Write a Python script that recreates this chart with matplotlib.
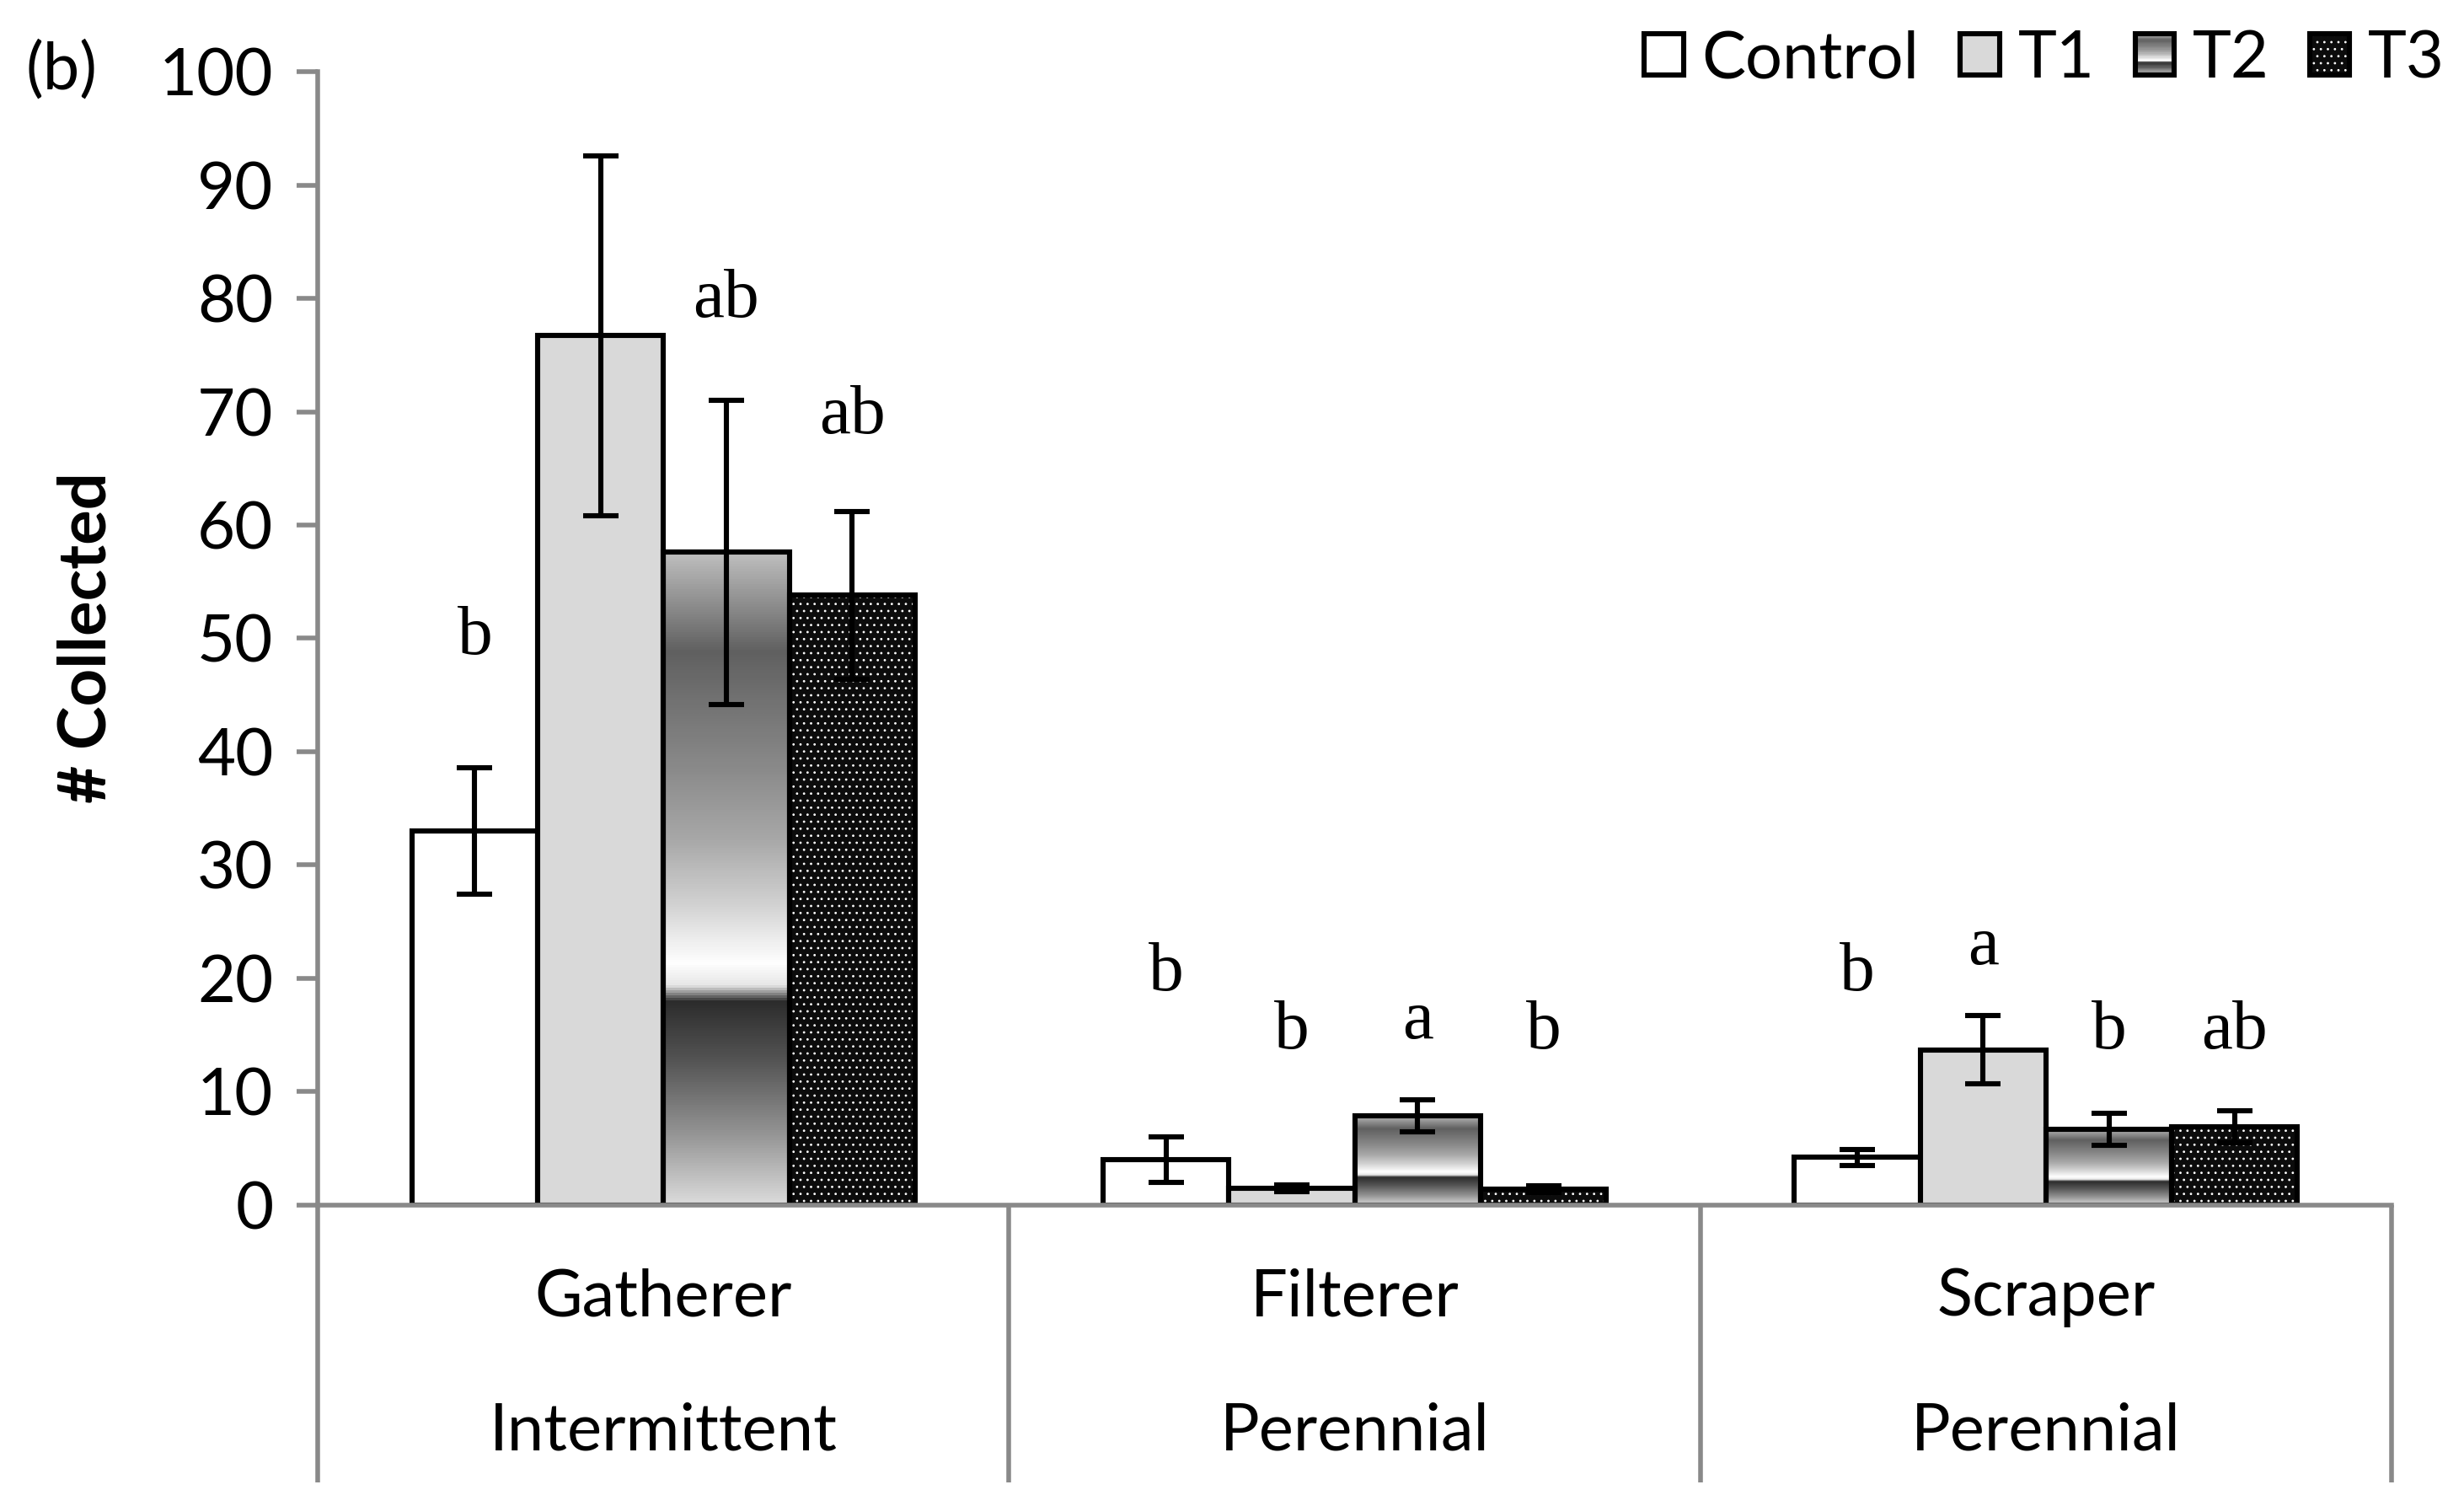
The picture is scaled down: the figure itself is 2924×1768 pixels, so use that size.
import numpy as np
import matplotlib
matplotlib.use("Agg")
import matplotlib.pyplot as plt
from matplotlib.patches import Rectangle, Patch
from matplotlib.legend_handler import HandlerBase
from matplotlib.colors import LinearSegmentedColormap
import matplotlib.transforms as mtransforms

# ---------------- data ----------------
groups = ["Gatherer", "Filterer", "Scraper"]
habitats = ["Intermittent", "Perennial", "Perennial"]
series = ["Control", "T1", "T2", "T3"]

control = [33.0, 4.0, 4.2]
t1 = [76.7, 1.5, 13.7]
t2 = [57.6, 7.9, 6.7]
t3 = [53.8, 1.4, 6.9]

control_err = [5.6, 2.0, 0.7]
t1_err = [15.9, 0.3, 3.0]
t2_err = [13.4, 1.4, 1.4]
t3_err = [7.4, 0.3, 1.4]

control_let = ["b", "b", "b"]
t1_let = ["", "b", "a"]
t2_let = ["ab", "a", "b"]
t3_let = ["ab", "b", "ab"]

# letter heights (data units, vertical centre)
control_let_y = [50.1, 20.4, 20.4]
t1_let_y = [0, 15.3, 22.7]
t2_let_y = [79.8, 16.2, 15.3]
t3_let_y = [69.6, 15.3, 15.3]

yticks = list(range(0, 101, 10))

# ---------------- style ----------------
plt.rcParams['font.family'] = ['Lato', 'DejaVu Sans']
plt.rcParams['hatch.linewidth'] = 0.4
FS = 28
GRAY = '#898989'

grad_cmap = LinearSegmentedColormap.from_list('chrome', [
    (0.00, '#dadada'),
    (0.11, '#929292'),
    (0.22, '#545454'),
    (0.31, '#2c2c2c'),
    (0.335, '#e6e6e6'),
    (0.37, '#ffffff'),
    (0.46, '#d2d2d2'),
    (0.56, '#a8a8a8'),
    (0.67, '#8a8a8a'),
    (0.85, '#606060'),
    (1.00, '#bdbdbd'),
])

fig = plt.figure(figsize=(14.62, 8.84), dpi=200)
ax = fig.add_axes([0.129, 0.1912, 0.8416, 0.7607])

x = np.arange(len(groups))
w = 0.182
offs = [-1.5 * w, -0.5 * w, 0.5 * w, 1.5 * w]
vals = [control, t1, t2, t3]
errs = [control_err, t1_err, t2_err, t3_err]
lets = [control_let, t1_let, t2_let, t3_let]
lety = [control_let_y, t1_let_y, t2_let_y, t3_let_y]
LW = 2.2
T3FACE = '#0c0c0c'

# Control
ax.bar(x + offs[0], control, w, facecolor='white', edgecolor='black', linewidth=LW, zorder=2)
# T1
ax.bar(x + offs[1], t1, w, facecolor='#d9d9d9', edgecolor='black', linewidth=LW, zorder=2)
# T2 gradient
b2 = ax.bar(x + offs[2], t2, w, facecolor='none', edgecolor='black', linewidth=LW, zorder=2)
grad = np.linspace(0, 1, 256).reshape(-1, 1)
for r in b2:
    x0, y0 = r.get_x(), r.get_y()
    im = ax.imshow(grad, extent=[x0, x0 + r.get_width(), y0, y0 + r.get_height()],
                   origin='lower', cmap=grad_cmap, aspect='auto', zorder=1.5,
                   interpolation='bilinear')
    im.set_clip_path(r)
# T3 dotted dark
ax.bar(x + offs[3], t3, w, facecolor=T3FACE, edgecolor='white', linewidth=0,
       hatch='....', zorder=1.6)
ax.bar(x + offs[3], t3, w, facecolor='none', edgecolor='black', linewidth=LW, zorder=2)

for o, v, e in zip(offs, vals, errs):
    ax.errorbar(x + o, v, yerr=e, fmt='none', ecolor='black', elinewidth=LW,
                capsize=7.5, capthick=LW, zorder=5)

for o, L, Y in zip(offs, lets, lety):
    for xi, s, yy in zip(x, L, Y):
        if s:
            ax.text(xi + o, yy, s, ha='center', va='center', fontsize=30,
                    family=['Liberation Serif', 'DejaVu Serif'], zorder=6)

ax.set_xlim(-0.5, 2.5)
ax.set_ylim(0, 100)
ax.set_yticks(yticks)
ax.set_xticks([])
ax.tick_params(axis='y', direction='out', length=9, width=2, color=GRAY,
               labelsize=FS, pad=10, labelcolor='black')
for s in ['top', 'right']:
    ax.spines[s].set_visible(False)
for s in ['left', 'bottom']:
    ax.spines[s].set_color(GRAY)
    ax.spines[s].set_linewidth(2)

trans = mtransforms.blended_transform_factory(ax.transData, ax.transAxes)
for xb in np.arange(len(groups) + 1) - 0.5:
    ax.plot([xb, xb], [0, -0.245], transform=trans, color=GRAY, lw=2,
            clip_on=False, solid_capstyle='butt')
for xi, g, h in zip(x, groups, habitats):
    ax.text(xi, -0.0815, g, transform=trans, ha='center', va='center', fontsize=FS)
    ax.text(xi, -0.2, h, transform=trans, ha='center', va='center', fontsize=FS)

fig.text(103 / 2924, 0.572, '# Collected', rotation=90, ha='center', va='center',
         fontsize=FS, fontweight='bold')
fig.text(73 / 2924, 1 - 84 / 1768, '(b)', ha='center', va='center', fontsize=FS)


# ---------------- legend ----------------
class GradHandler(HandlerBase):
    def create_artists(self, legend, orig_handle, xdescent, ydescent, width, height,
                       fontsize, trans):
        arts = []
        n = 40
        for i in range(n):
            arts.append(Rectangle((-xdescent, -ydescent + i * height / n), width,
                                  height / n + 0.2, facecolor=grad_cmap((i + 0.5) / n),
                                  edgecolor='none', transform=trans))
        arts.append(Rectangle((-xdescent, -ydescent), width, height, facecolor='none',
                              edgecolor='black', lw=LW, transform=trans))
        return arts


class HatchHandler(HandlerBase):
    def create_artists(self, legend, orig_handle, xdescent, ydescent, width, height,
                       fontsize, trans):
        a = Rectangle((-xdescent, -ydescent), width, height, facecolor=T3FACE,
                      edgecolor='white', lw=0, hatch='....', transform=trans)
        b = Rectangle((-xdescent, -ydescent), width, height, facecolor='none',
                      edgecolor='black', lw=LW, transform=trans)
        return [a, b]


h0 = Patch(facecolor='white', edgecolor='black', linewidth=LW)
h1 = Patch(facecolor='#d9d9d9', edgecolor='black', linewidth=LW)
h2 = Patch(facecolor='gray', edgecolor='black')
h3 = Patch(facecolor='black', edgecolor='black')
fig.legend([h0, h1, h2, h3], series, handler_map={h2: GradHandler(), h3: HatchHandler()},
           loc='center right', bbox_to_anchor=(0.992, 0.96), ncol=4, frameon=False,
           fontsize=FS, handlelength=0.6, handleheight=0.6, handletextpad=0.28,
           columnspacing=0.62, borderpad=0, borderaxespad=0)

fig.savefig('out.png', dpi=200)
